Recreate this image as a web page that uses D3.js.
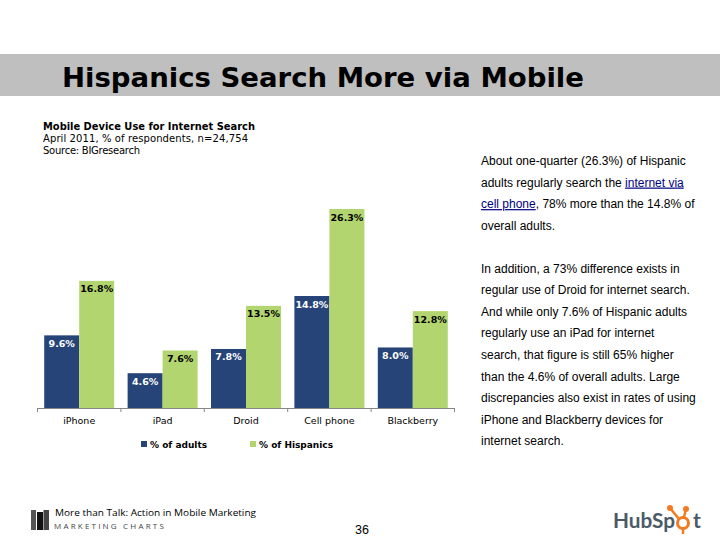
<!DOCTYPE html>
<html>
<head>
<meta charset="utf-8">
<script src="https://cdn.jsdelivr.net/npm/d3@7"></script>
<style>
  html, body { margin: 0; padding: 0; background: #fff; }
  svg { display: block; }
</style>
</head>
<body>
<svg id="chart" width="720" height="540"></svg>
<script>
const categories = ["iPhone", "iPad", "Droid", "Cell phone", "Blackberry"];
const adults = [9.6, 4.6, 7.8, 14.8, 8.0];
const hispanics = [16.8, 7.6, 13.5, 26.3, 12.8];
const seriesNames = ["% of adults", "% of Hispanics"];
const seriesColors = ["#264478", "#b3d56f"];
const labelColors = ["#ffffff", "#000000"];
const subtitleLines = ["April 2011, % of respondents, n=24,754", "Source: BIGresearch"];
const subtitleWidths = [205, 97];
const bodyLines = [
  ["About one-quarter (26.3%) of Hispanic"],
  ["adults regularly search the ", "internet via"],
  ["", "cell phone", ", 78% more than the 14.8% of"],
  ["overall adults."],
  [""],
  ["In addition, a 73% difference exists in"],
  ["regular use of Droid for internet search."],
  ["And while only 7.6% of Hispanic adults"],
  ["regularly use an iPad for internet"],
  ["search, that figure is still 65% higher"],
  ["than the 4.6% of overall adults. Large"],
  ["discrepancies also exist in rates of using"],
  ["iPhone and Blackberry devices for"],
  ["internet search."]
];

const VERDANA = "'DejaVu Sans', sans-serif";
const ARIAL = "'Liberation Sans', Arial, sans-serif";
const svg = d3.select("#chart");

// title band
svg.append("rect").attr("x", 0).attr("y", 54).attr("width", 720).attr("height", 42).attr("fill", "#bfbfbf");
svg.append("text").attr("x", 62).attr("y", 87)
  .attr("font-family", VERDANA).attr("font-weight", "bold").attr("font-size", 26.5)
  .attr("textLength", 522).attr("lengthAdjust", "spacingAndGlyphs")
  .text("Hispanics Search More via Mobile");

// chart heading
svg.append("text").attr("x", 43).attr("y", 130)
  .attr("font-family", VERDANA).attr("font-weight", "bold").attr("font-size", 10)
  .attr("textLength", 212).attr("lengthAdjust", "spacingAndGlyphs")
  .text("Mobile Device Use for Internet Search");
svg.selectAll(".sub").data(subtitleLines).join("text").attr("class", "sub")
  .attr("x", 43).attr("y", (d, i) => 142 + i * 12)
  .attr("font-family", VERDANA).attr("font-size", 10)
  .attr("textLength", (d, i) => subtitleWidths[i]).attr("lengthAdjust", "spacing")
  .text(d => d);

// scales
const x = d3.scaleBand().domain(categories).range([37.5, 454.5]);
const barW = 35;
const y = d3.scaleLinear().domain([0, 26.3]).range([408, 209]);

const plot = svg.append("g");
[adults, hispanics].forEach((values, s) => {
  const g = plot.append("g");
  const barX = (d, i) => x(categories[i]) + x.bandwidth() / 2 - barW + s * barW;
  g.selectAll("rect").data(values).join("rect")
    .attr("x", barX)
    .attr("y", d => y(d))
    .attr("width", barW)
    .attr("height", d => y(0) - y(d))
    .attr("fill", seriesColors[s]);
  g.selectAll("text").data(values).join("text")
    .attr("x", (d, i) => barX(d, i) + barW / 2)
    .attr("y", d => y(d) + 11.5)
    .attr("text-anchor", "middle")
    .attr("font-family", VERDANA).attr("font-weight", "bold").attr("font-size", 9.5)
    .attr("fill", labelColors[s])
    .text(d => d.toFixed(1) + "%");
});

// x axis, ticks sit between the categories
const axis = svg.append("g").attr("transform", "translate(0,408)")
  .call(d3.axisBottom(x).tickSize(0).tickPadding(9));
axis.select(".domain").attr("stroke", "#868686");
axis.selectAll("text").attr("font-family", VERDANA).attr("font-size", 9.5).attr("fill", "#000");
svg.append("g").selectAll("line").data(x.domain().map(d => x(d)).concat(x.range()[1])).join("line")
  .attr("x1", d => d).attr("x2", d => d).attr("y1", 408).attr("y2", 412)
  .attr("stroke", "#868686");

// legend
const legendX = [141, 250];
seriesNames.forEach((name, s) => {
  svg.append("rect").attr("x", legendX[s]).attr("y", 441).attr("width", 6).attr("height", 6).attr("fill", seriesColors[s]);
  svg.append("text").attr("x", legendX[s] + 9).attr("y", 448)
    .attr("font-family", VERDANA).attr("font-weight", "bold").attr("font-size", 9)
    .text(name);
});

// right hand commentary
const body = svg.append("g").attr("font-family", ARIAL).attr("font-size", 12).attr("fill", "#000");
bodyLines.forEach((parts, i) => {
  if (!parts[0] && parts.length == 1) return;
  const t = body.append("text").attr("x", 481).attr("y", 165 + i * 21.55);
  parts.forEach((p, j) => {
    const span = t.append("tspan").text(p);
    if (j == 1) span.attr("fill", "#000080").attr("text-decoration", "underline");
  });
});

// footer
const logo = svg.append("g");
[[31, 5, 20, "#555"], [37, 6, 18, "#111"], [43.5, 5.5, 20, "#444"]].forEach(d => {
  logo.append("rect").attr("x", d[0]).attr("y", 530 - d[2]).attr("width", d[1]).attr("height", d[2]).attr("fill", d[3]);
});
svg.append("text").attr("x", 55).attr("y", 516)
  .attr("font-family", "'Open Sans', sans-serif").attr("font-size", 9.5)
  .attr("textLength", 201).attr("lengthAdjust", "spacingAndGlyphs")
  .text("More than Talk: Action in Mobile Marketing");
svg.append("text").attr("x", 54).attr("y", 529)
  .attr("font-family", "'Open Sans', sans-serif").attr("font-size", 8).attr("fill", "#444")
  .attr("letter-spacing", 2.2)
  .text("MARKETING CHARTS");
svg.append("text").attr("x", 355).attr("y", 534)
  .attr("font-family", ARIAL).attr("font-size", 12.5)
  .text("36");

// hubspot mark
const hubText = svg.append("g").attr("font-family", "Lato, sans-serif").attr("font-weight", "bold")
  .attr("font-size", 21).attr("fill", "#4b5a66");
hubText.append("text").attr("x", 613).attr("y", 528)
  .attr("textLength", 62).attr("lengthAdjust", "spacingAndGlyphs").text("HubSp");
hubText.append("text").attr("x", 693).attr("y", 528).text("t");
const spot = svg.append("g").attr("stroke", "#f47b20").attr("fill", "none");
spot.append("circle").attr("cx", 683).attr("cy", 523).attr("r", 5.5).attr("stroke-width", 3);
spot.append("line").attr("x1", 683).attr("y1", 529).attr("x2", 683).attr("y2", 534).attr("stroke-width", 2.5);
spot.append("line").attr("x1", 684).attr("y1", 517).attr("x2", 686).attr("y2", 509).attr("stroke-width", 2.5);
spot.append("line").attr("x1", 679).attr("y1", 519).attr("x2", 670).attr("y2", 508).attr("stroke-width", 2.5);
spot.append("circle").attr("cx", 670).attr("cy", 508).attr("r", 3).attr("fill", "#f47b20").attr("stroke", "none");
spot.append("circle").attr("cx", 686).attr("cy", 509).attr("r", 3).attr("fill", "#f47b20").attr("stroke", "none");
</script>
</body>
</html>
